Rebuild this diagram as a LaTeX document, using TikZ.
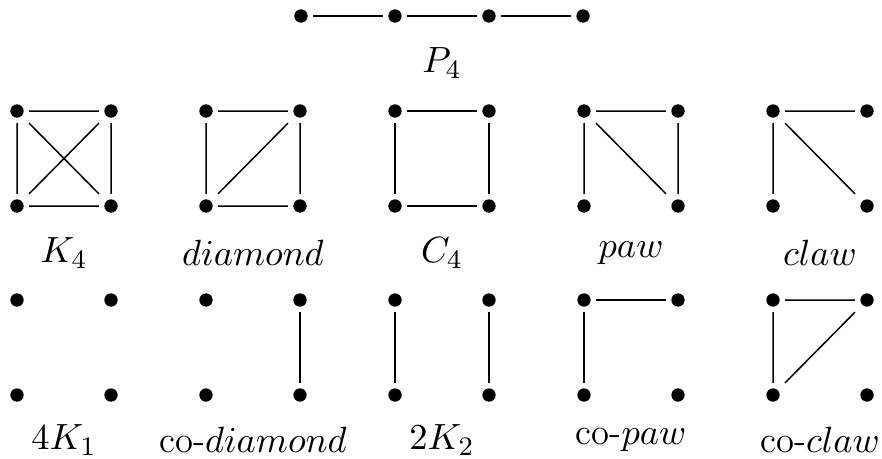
\documentclass[tikz,border=0pt]{standalone}
\begin{document}
\begin{tikzpicture}[x=0.3pt,y=-0.3pt,
  v/.style={rectangle, inner sep=0pt, minimum size=6.9pt,
    path picture={\fill[black] (path picture bounding box.center) circle (2pt);}},
  e/.style={line width=0.45pt},
  lab/.style={font=\fontsize{11}{13}\selectfont, inner sep=0pt}]
\useasboundingbox (0,0) rectangle (882,458);
% P4
\node[v] (p41) at (301,16) {};
\node[v] (p42) at (395,16) {};
\node[v] (p43) at (489,16) {};
\node[v] (p44) at (583,16) {};
\draw[e] (p41) -- (p42) (p42) -- (p43) (p43) -- (p44);
\node[lab] (lp4) at (442,63) {$P_4$};
% row 2 vertices
\foreach \n/\x in {k/17, d/206, c/395, p/584, w/773}{
  \node[v] (\n1) at (\x,111) {};
  \node[v] (\n2) at (\x+94,111) {};
  \node[v] (\n3) at (\x,206) {};
  \node[v] (\n4) at (\x+94,206) {};
}
% row 3 vertices
\foreach \n/\x in {a/17, b/206, t/395, q/584, r/773}{
  \node[v] (\n1) at (\x,300) {};
  \node[v] (\n2) at (\x+94,300) {};
  \node[v] (\n3) at (\x,395) {};
  \node[v] (\n4) at (\x+94,395) {};
}
% K4
\draw[e] (k1) -- (k2) (k3) -- (k4) (k1) -- (k3) (k2) -- (k4) (k1) -- (k4) (k2) -- (k3);
% diamond
\draw[e] (d1) -- (d2) (d3) -- (d4) (d1) -- (d3) (d2) -- (d4) (d3) -- (d2);
% C4
\draw[e] (c1) -- (c2) (c3) -- (c4) (c1) -- (c3) (c2) -- (c4);
% paw
\draw[e] (p1) -- (p2) (p1) -- (p3) (p2) -- (p4) (p1) -- (p4);
% claw
\draw[e] (w1) -- (w2) (w1) -- (w3) (w1) -- (w4);
% co-diamond
\draw[e] (b2) -- (b4);
% 2K2
\draw[e] (t1) -- (t3) (t2) -- (t4);
% co-paw
\draw[e] (q1) -- (q2) (q1) -- (q3);
% co-claw
\draw[e] (r1) -- (r2) (r1) -- (r3) (r3) -- (r2);
% labels
\node[lab] (lk) at (64,253) {$K_4$};
\node[lab] (ld) at (253,253) {$diamond$};
\node[lab] (lc) at (442,253) {$C_4$};
\node[lab] (lp) at (631,253) {$paw$};
\node[lab] (lw) at (820,253) {$claw$};
\node[lab] (la) at (64,440) {$4K_1$};
\node[lab] (lb) at (253,440) {co-$diamond$};
\node[lab] (lt) at (442,440) {$2K_2$};
\node[lab] (lq) at (631,440) {co-$paw$};
\node[lab] (lr) at (820,440) {co-$claw$};
\end{tikzpicture}
\end{document}
